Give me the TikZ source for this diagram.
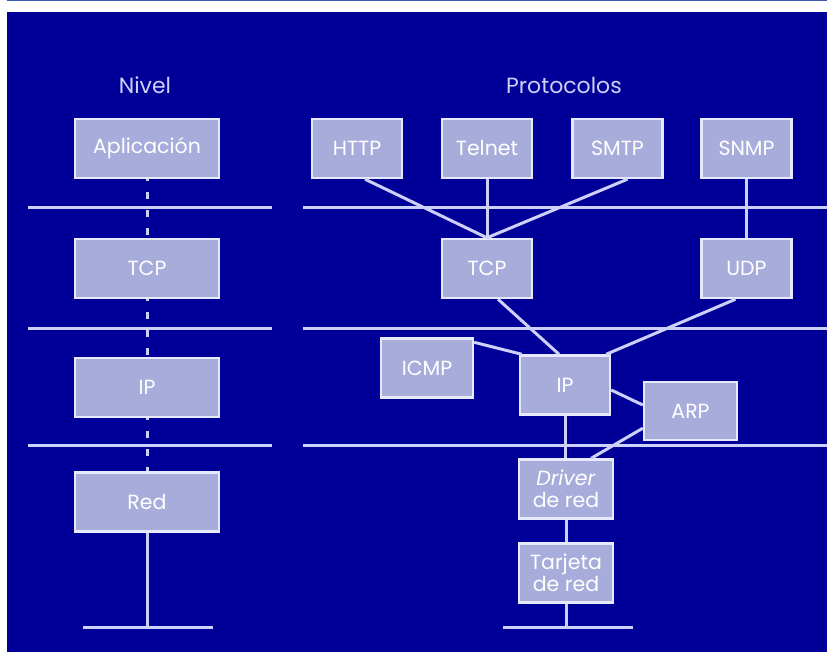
\documentclass[tikz,border=0pt]{standalone}
\usepackage{fontspec}
\setmainfont{Poppins}
\usepackage{xcolor}
\usepackage{tikz}
\definecolor{fondo}{RGB}{0,0,153}
\definecolor{caja}{RGB}{168,172,218}
\definecolor{borde}{RGB}{230,232,252}
\definecolor{linea}{RGB}{205,208,248}
\definecolor{marco}{RGB}{60,90,180}
\tikzset{
nivel/.style={
  rectangle,
  draw=borde,
  fill=caja,
  line width=2.4pt,
  minimum width=144pt,
  minimum height=59pt,
  inner sep=2pt,
  text=white,
  font=\fontsize{20.5}{22}\selectfont
},
proto/.style={nivel, minimum width=90pt, align=center},
titulo/.style={text=linea, font=\fontsize{22}{24}\selectfont},
enlace/.style={draw=linea, line width=3pt},
%corte/.style={enlace, dash pattern=on 6pt off 12pt},
}

\begin{document}
\begin{tikzpicture}[x=1pt,y=-1pt]
\useasboundingbox (0,0) rectangle (827,655);
\fill[white] (0,0) rectangle (827,655);
\fill[fondo] (7,12) rectangle (827,652);
\draw[marco, line width=1.5pt] (7,0.75) -- (827,0.75);
% the headings
\node[titulo] (nivel) at (145,85) {Nivel};
\node[titulo] (protocolos) at (564,85) {Protocolos};
% the layer rules
\foreach \y in {208,328,445}
{
  \draw[enlace] (28,\y) -- (272,\y);
  \draw[enlace] (303,\y) -- (827,\y);
}
% the levels
\node[nivel] (aplic) at (147,148.5) {Aplicación};
\node[nivel] (tcpn) at (147,268.5) {TCP};
\node[nivel] (ipn) at (147,387.5) {IP};
\node[nivel] (redn) at (147,502) {Red};
\foreach \a/\b in {aplic/tcpn,tcpn/ipn,ipn/redn}
{
  \draw[enlace, dash pattern=on 7pt off 11pt, dash phase=-13pt] (\a) -- (\b);
}
\coordinate (tierra1) at (147,627);
\draw[enlace] (redn) -- (tierra1);
\draw[enlace] ([xshift=-64pt]tierra1) -- ([xshift=66pt]tierra1);
% the protocols
\node[proto] (http) at (357,148.5) {HTTP};
\node[proto] (telnet) at (487,148.5) {Telnet};
\node[proto] (smtp) at (617.5,148.5) {SMTP};
\node[proto] (snmp) at (746.5,148.5) {SNMP};
\node[proto] (tcp) at (487,268.5) {TCP};
\node[proto] (udp) at (746.5,268.5) {UDP};
\node[proto, minimum width=92pt] (icmp) at (427,368) {ICMP};
\node[proto] (ip) at (565,385) {IP};
\node[proto, minimum width=93pt, minimum height=58pt] (arp) at (690.5,411) {ARP};
\node[proto, minimum width=94pt] (driver) at (566,489) {\textit{Driver}\\de red};
\node[proto, minimum width=94pt] (tarjeta) at (566,573) {Tarjeta\\de red};
% the links
\draw[enlace] ([xshift=8pt]http.south) -- (tcp.north);
\draw[enlace] (telnet) -- (tcp);
\draw[enlace] ([xshift=10pt]smtp.south) -- (tcp.north);
\draw[enlace] (snmp) -- (udp);
\draw[enlace] ([xshift=11pt]tcp.south) -- ([xshift=-6pt]ip.north);
\draw[enlace] ([xshift=-11pt]udp.south) -- ([xshift=-5pt]ip.north east);
\draw[enlace] ([yshift=-5pt]icmp.north east) -- ([xshift=3pt]ip.north west);
\draw[enlace] ([yshift=-5pt]ip.east) -- ([yshift=6pt]arp.west);
\draw[enlace] (ip.south) -- (ip.south |- driver.north);
\draw[enlace] ([yshift=13pt]arp.south west) -- ([xshift=-23pt]driver.north east);
\draw[enlace] (driver) -- (tarjeta);
\coordinate (tierra2) at (566,627);
\draw[enlace] (tarjeta) -- (tierra2);
\draw[enlace] ([xshift=-63pt]tierra2) -- ([xshift=67pt]tierra2);
\end{tikzpicture}
\end{document}
